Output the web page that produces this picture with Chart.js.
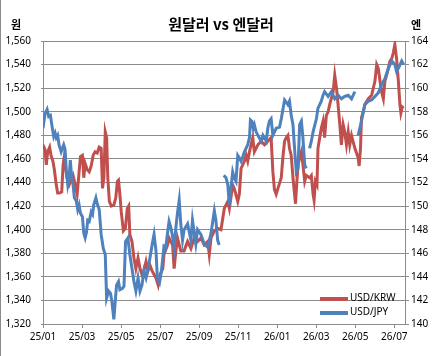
<!DOCTYPE html>
<html>
<head>
<meta charset="utf-8">
<script src="https://cdn.jsdelivr.net/npm/chart.js@4/dist/chart.umd.min.js"></script>
<style>
  body { margin: 0; background: #fff; }
  #wrap { position: relative; width: 432px; height: 356px; overflow: hidden; }
  #frame { position: absolute; left: 0; top: 0; width: 1px; height: 356px; background: #8c8c8c; }
  .txt { position: absolute; font-family: "Noto Sans CJK KR", "Noto Sans", sans-serif; color: #000; white-space: nowrap; }
  #title { left: 0; width: 442px; top: 13px; text-align: center; font-size: 15px; font-weight: bold; }
  .unit { top: 16px; font-size: 11px; font-weight: bold; }
  .legLine { position: absolute; left: 320px; width: 28px; height: 4px; }
  .legTxt { left: 350px; font-family: "Noto Sans", sans-serif; font-size: 10px; }
</style>
</head>
<body>
<div id="wrap">
  <canvas id="fx" width="432" height="356"></canvas>
  <div id="frame"></div>
  <div class="txt" id="title">원달러 vs 엔달러</div>
  <div class="txt unit" style="left:11px">원</div>
  <div class="txt unit" style="left:411px">엔</div>
  <div class="legLine" style="top:297px;background:#C0504D"></div>
  <div class="txt legTxt" style="top:290px">USD/KRW</div>
  <div class="legLine" style="top:311px;background:#4F81BD"></div>
  <div class="txt legTxt" style="top:304px">USD/JPY</div>
</div>
<script>
// x = months since 2025-01
const monthTicks = ["25/01", "25/03", "25/05", "25/07", "25/09", "25/11", "26/01", "26/03", "26/05", "26/07"];

// USD/KRW (left axis, 원)
const krwT = [
  0, 0.10, 0.17, 0.24, 0.34, 0.41, 0.51, 0.58, 0.68, 0.75,
  0.85, 0.96, 1.03, 1.10, 1.16, 1.23, 1.34, 1.44, 1.54, 1.65,
  1.75, 1.85, 1.92, 2.02, 2.09, 2.16, 2.26, 2.37, 2.47, 2.57,
  2.67, 2.78, 2.88, 2.98, 3.05, 3.12, 3.19, 3.26, 3.32, 3.40,
  3.50, 3.63, 3.73, 3.81, 3.87, 3.94, 4.01, 4.12, 4.22, 4.32,
  4.39, 4.45, 4.56, 4.66, 4.76, 4.87, 4.97, 5.07, 5.17, 5.28,
  5.38, 5.48, 5.59, 5.69, 5.79, 5.90, 6.00, 6.14, 6.20, 6.38,
  6.46, 6.64, 6.72, 6.81, 6.89, 7.06, 7.23, 7.41, 7.58, 7.75,
  7.92, 8.09, 8.26, 8.44, 8.52, 8.61, 8.78, 8.95, 9.12, 9.29,
  9.47, 9.55, 9.63, 9.72, 9.80, 9.98, 10.06, 10.15, 10.32, 10.41,
  10.49, 10.58, 10.66, 10.75, 10.83, 11.01, 11.18, 11.35, 11.52, 11.69,
  11.78, 11.86, 11.95, 12.04, 12.21, 12.29, 12.38, 12.46, 12.55, 12.63,
  12.72, 12.81, 12.89, 12.94, 13.01, 13.07, 13.15, 13.24, 13.32, 13.41,
  13.49, 13.66, 13.75, 13.84, 13.89, 13.96, 14.04, 14.09, 14.18, 14.26,
  14.35, 14.43, 14.52, 14.61, 14.69, 14.87, 14.95, 15.04, 15.12, 15.21,
  15.29, 15.38, 15.46, 15.55, 15.64, 15.72, 15.81, 15.98, 16.15, 16.20,
  16.27, 16.32, 16.41, 16.49, 16.67, 16.84, 17.01, 17.10, 17.18, 17.27,
  17.35, 17.44, 17.52, 17.61, 17.70, 17.78, 17.87, 17.95, 18.03, 18.12,
  18.21, 18.29, 18.34, 18.41, 18.48
];
const krwRates = [
  1472, 1468, 1455, 1466, 1470, 1463, 1458, 1451, 1438, 1431,
  1431, 1432, 1455, 1463, 1452, 1444, 1438, 1442, 1446, 1438,
  1430, 1449, 1462, 1463, 1444, 1456, 1451, 1449, 1454, 1463,
  1466, 1465, 1470, 1469, 1435, 1444, 1483, 1478, 1444, 1424,
  1420, 1421, 1427, 1441, 1442, 1430, 1415, 1399, 1401, 1418,
  1420, 1396, 1390, 1376, 1367, 1376, 1367, 1362, 1365, 1373,
  1365, 1370, 1365, 1362, 1359, 1353, 1362, 1367, 1379, 1387,
  1393, 1387, 1367, 1382, 1393, 1382, 1382, 1390, 1384, 1393,
  1390, 1393, 1387, 1390, 1379, 1393, 1399, 1401, 1400, 1418,
  1424, 1418, 1427, 1438, 1435, 1424, 1430, 1452, 1458, 1463,
  1458, 1466, 1472, 1478, 1466, 1472, 1475, 1472, 1475, 1478,
  1449, 1434, 1430, 1435, 1444, 1461, 1475, 1478, 1480, 1469,
  1463, 1444, 1430, 1422, 1441, 1455, 1461, 1466, 1455, 1441,
  1446, 1444, 1446, 1430, 1425, 1441, 1438, 1469, 1478, 1486,
  1492, 1478, 1497, 1500, 1506, 1517, 1531, 1520, 1506, 1489,
  1472, 1489, 1483, 1472, 1483, 1472, 1480, 1469, 1461, 1454,
  1469, 1495, 1500, 1506, 1511, 1514, 1526, 1540, 1537, 1526,
  1517, 1511, 1526, 1531, 1537, 1543, 1545, 1550, 1557, 1545,
  1526, 1506, 1499, 1504, 1503
];

// USD/JPY (right axis, 엔), null = missing days
const jpyT = [
  0, 0.10, 0.21, 0.29, 0.38, 0.46, 0.55, 0.62, 0.68, 0.75,
  0.82, 0.93, 1.06, 1.13, 1.20, 1.27, 1.34, 1.40, 1.47, 1.54,
  1.61, 1.71, 1.78, 1.85, 1.92, 2.02, 2.09, 2.16, 2.23, 2.29,
  2.37, 2.47, 2.54, 2.60, 2.71, 2.78, 2.88, 2.98, 3.09, 3.19,
  3.26, 3.36, 3.46, 3.53, 3.63, 3.70, 3.77, 3.87, 3.94, 4.06,
  4.15, 4.23, 4.35, 4.45, 4.56, 4.66, 4.76, 4.87, 4.97, 5.07,
  5.17, 5.28, 5.38, 5.48, 5.59, 5.69, 5.79, 5.86, 5.97, 6.07,
  6.20, 6.29, 6.38, 6.46, 6.55, 6.64, 6.72, 6.81, 6.89, 6.98,
  7.06, 7.15, 7.23, 7.41, 7.58, 7.66, 7.83, 7.92, 8.09, 8.26,
  8.44, 8.61, 8.78, 8.86, 8.95, 9.03, 9.13, 9.26, 9.38, 9.47,
  9.55, 9.63, 9.72, 9.80, 9.89, 9.98, 10.06, 10.15, 10.24, 10.32,
  10.49, 10.58, 10.63, 10.70, 10.77, 10.83, 10.92, 11.01, 11.18, 11.27,
  11.44, 11.52, 11.60, 11.69, 11.78, 11.95, 12.12, 12.21, 12.38, 12.55,
  12.63, 12.72, 12.81, 12.89, 12.98, 13.07, 13.15, 13.24, 13.32, 13.41,
  13.49, 13.57, 13.66, 13.75, 13.84, 14.01, 14.09, 14.18, 14.26, 14.35,
  14.43, 14.61, 14.78, 14.95, 15.12, 15.29, 15.46, 15.64, 15.81, 15.98,
  16.07, 16.15, 16.32, 16.49, 16.67, 16.84, 17.01, 17.18, 17.35, 17.52,
  17.70, 17.87, 18.03, 18.12, 18.27, 18.38, 18.48
];
const jpyRates = [
  156.6, 157.8, 158.2, 157.6, 157.7, 156.8, 155.9, 156.2, 155.8, 156.0,
  155.2, 154.6, 155.2, 154.8, 152.9, 151.8, 152.4, 153.9, 152.4, 151.8,
  150.7, 150.4, 149.7, 150.1, 149.4, 149.1, 147.7, 147.3, 147.8, 148.8,
  148.7, 149.5, 149.3, 150.1, 150.7, 150.2, 149.7, 147.6, 146.4, 145.9,
  142.2, 142.8, 142.6, 141.9, 140.4, 141.9, 143.3, 143.6, 142.9, 143.0,
  143.2, 147.0, 147.3, 145.9, 144.7, 143.6, 142.8, 143.9, 142.8, 143.3,
  144.5, 143.9, 144.7, 145.6, 146.7, 147.6, 146.2, 143.9, 143.5, 144.5,
  146.6, 146.5, 147.7, 148.7, 148.2, 147.4, 146.5, 148.2, 149.4, 150.5,
  148.5, 147.1, 148.0, 148.5, 147.1, 148.8, 146.8, 148.0, 147.6, 146.8,
  146.5, 147.7, 149.6, 148.8, 147.1, 146.7, null, 152.6, 152.4, 151.8,
  150.1, 151.5, 152.9, 152.4, 152.1, 154.3, 154.1, 153.8, 154.2, 154.6,
  155.2, 155.8, 157.3, 157.2, 156.6, 156.9, 156.3, 156.0, 155.5, 156.0,
  155.5, 156.6, 157.2, 157.4, 156.0, 156.6, 156.7, 157.4, 159.0, 158.6,
  158.9, 157.7, 156.9, 154.9, 152.9, 153.2, 156.9, 157.2, 155.8, 153.5,
  153.2, null, 154.9, 155.5, 156.3, 157.4, 158.3, 158.6, 158.9, 159.4,
  159.7, 159.3, 159.7, 159.1, 159.4, 159.1, 159.3, 159.4, 159.1, 159.7,
  null, 156.0, 157.2, 158.6, 158.9, 159.0, 159.3, 159.6, 160.3, 160.8,
  161.7, 162.3, 162.0, 161.4, 161.9, 162.3, 162.0
];

const gridGray = "#8c8c8c";
const tickFont = { family: "Noto Sans", size: 10 };

var ctx = document.getElementById("fx").getContext("2d");

let chart = new Chart(ctx, {
    type: "line",
    data: {
        datasets: [
            {
                label: "USD/JPY",
                data: jpyT.map((t, i) => ({ x: t, y: jpyRates[i] })),
                borderColor: "#4F81BD",
                borderWidth: 3,
                pointRadius: 0,
                spanGaps: false,
                yAxisID: "yJpy"
            },
            {
                label: "USD/KRW",
                data: krwT.map((t, i) => ({ x: t, y: krwRates[i] })),
                borderColor: "#C0504D",
                borderWidth: 3,
                pointRadius: 0,
                yAxisID: "yKrw"
            }
        ]
    },
    options: {
        responsive: false,
        animation: false,
        layout: { padding: { top: 41, left: 0, right: 0, bottom: 0 } },
        plugins: { legend: { display: false }, title: { display: false }, tooltip: { enabled: false } },
        scales: {
            x: {
                type: "linear",
                min: 0,
                max: 18.55,
                afterBuildTicks: (axis) => { axis.ticks = monthTicks.map((_, i) => ({ value: i * 2 })); },
                afterFit: (s) => { s.height = 32; },
                ticks: {
                    autoSkip: false,
                    maxRotation: 0,
                    padding: 3,
                    color: "#000",
                    font: tickFont,
                    callback: (v) => monthTicks[Math.round(v / 2)]
                },
                grid: { drawOnChartArea: false, tickLength: 4, color: gridGray },
                border: { color: gridGray }
            },
            yKrw: {
                position: "left",
                min: 1320,
                max: 1560,
                afterFit: (s) => { s.width = 43; },
                ticks: {
                    stepSize: 20,
                    padding: 10,
                    color: "#000",
                    font: tickFont,
                    callback: (v) => v.toLocaleString("en-US")
                },
                grid: { color: gridGray, tickLength: 2 },
                border: { color: gridGray }
            },
            yJpy: {
                position: "right",
                min: 140,
                max: 164,
                afterFit: (s) => { s.width = 27; },
                ticks: { stepSize: 2, padding: 2, color: "#000", font: tickFont },
                grid: { drawOnChartArea: false, tickLength: 4, color: gridGray },
                border: { color: gridGray }
            }
        }
    }
});
</script>
</body>
</html>
